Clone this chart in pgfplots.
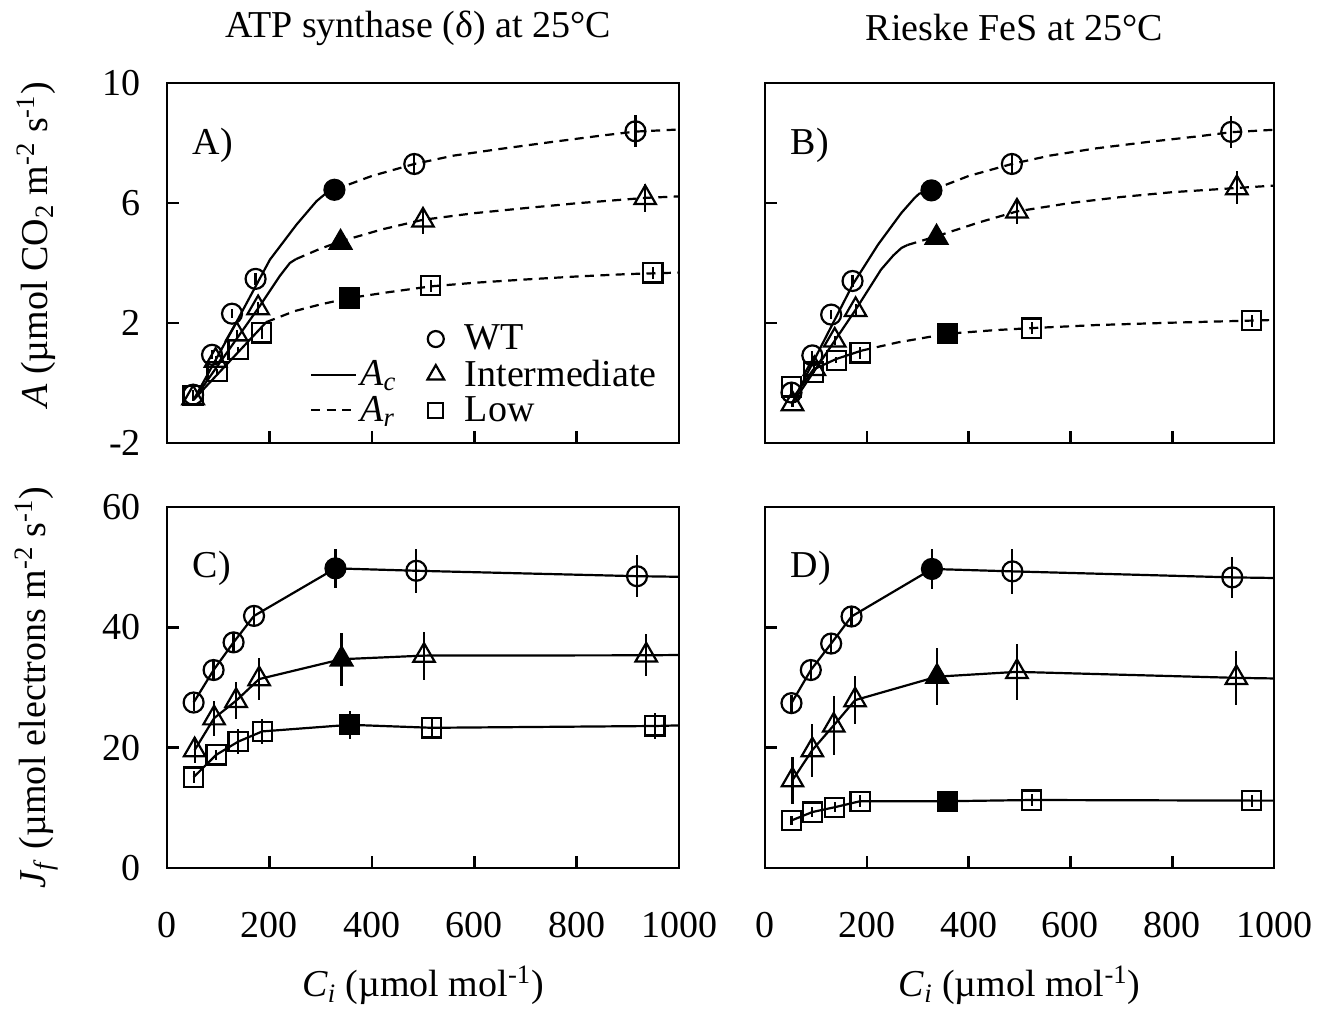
\documentclass[border=0pt]{standalone}
\usepackage{fontspec}
\setmainfont{Liberation Serif}
\usepackage{pgfplots}
\pgfplotsset{compat=1.18}

\newcommand{\bigfont}{\fontsize{19}{22}\selectfont}
\tikzset{plab/.style={font=\bigfont, anchor=west, inner sep=0pt}}

\pgfplotsset{
  panel/.style={
    scale only axis, width=256pt, height=180pt, anchor=south west,
    xmin=0, xmax=1000, xtick={0,200,...,1000},
    tick align=inside, tick pos=left, major tick length=6pt,
    axis line style={line width=1.3pt},
    every tick/.style={black, line width=1.3pt},
    tick label style={font=\bigfont},
    /pgf/number format/assume math mode=true,
    yticklabel style={xshift=-9.5pt},
    xticklabel style={yshift=-18.5pt},
    every axis y label/.style={at={(axis description cs:-0.255,0.5)}, rotate=90, anchor=center, font=\bigfont},
    every axis x label/.style={at={(axis description cs:0.5,-0.325)}, anchor=center, font=\bigfont},
    every axis title/.style={at={(axis description cs:0.49,1.153)}, anchor=center, font=\bigfont},
    clip=false,
  },
  toprow/.style={ymin=-2, ymax=10, ytick={-2,2,6,10}, xticklabels={}},
  botrow/.style={ymin=0, ymax=60, ytick={0,20,40,60}, xticklabels={0,200,400,600,800,1000},
    xlabel={\textit{C}\textsubscript{\textit{i}} (µmol mol\textsuperscript{-1})}},
  ac/.style={black, line width=1.1pt, no marks, solid},
  ar/.style={black, line width=1.1pt, no marks, dash pattern=on 4.5pt off 3.2pt},
  pts/.style={black, only marks, line width=1.1pt, mark options={solid},
    error bars/y dir=both, error bars/y explicit, error bars/error mark=none,
    error bars/error bar style={line width=1.1pt, solid}},
  wt/.style={pts, mark=o, mark size=5pt},
  wtf/.style={pts, mark=*, mark size=5pt, mark options={fill=black}},
  in/.style={pts, mark=triangle, mark size=6.2pt},
  inf/.style={pts, mark=triangle*, mark size=6.2pt, mark options={fill=black}},
  lo/.style={pts, mark=square, mark size=4.8pt},
  lof/.style={pts, mark=square*, mark size=4.8pt, mark options={fill=black}},
  legmark/.style={legend image code/.code={
    \path[draw=none] (-4pt,0pt) (13pt,0pt);
    \draw[black, line width=1.1pt, #1] plot coordinates {(0pt,0pt)};}},
}

\begin{document}
\begin{tikzpicture}
\path[use as bounding box] (0,0) rectangle (659.5pt,505pt);

% ---------------- A) ATP synthase, assimilation
\begin{axis}[panel, toprow, at={(83.5pt,283.5pt)},
  title={ATP synthase (δ) at 25°C},
  ylabel={\textit{A} (µmol CO\textsubscript{2} m\textsuperscript{-2} s\textsuperscript{-1})},
  ylabel style={at={(axis description cs:-0.255,0.55)}},
  legend columns=2, legend cell align=left,
  legend style={draw=none, fill=none, font=\bigfont,
    at={(axis description cs:0.975,0.348)}, anchor=north east,
    row sep=0.5pt, nodes={inner sep=1.5pt},
    /tikz/every even column/.append style={column sep=14pt}},
]
\addlegendimage{empty legend}\addlegendentry{}
\addlegendimage{legmark={mark=o, mark size=4pt}}\addlegendentry{WT}
\addlegendimage{legend image code/.code={\draw[black, line width=1.1pt] (0pt,0pt)--(22.5pt,0pt);}}
\addlegendentry{\textit{A}\textsubscript{\textit{c}}}
\addlegendimage{legmark={mark=triangle, mark size=4.8pt}}\addlegendentry{Intermediate}
\addlegendimage{legend image code/.code={\draw[black, line width=1.1pt, dash pattern=on 4.5pt off 3.2pt] (0pt,0pt)--(22.5pt,0pt);}}
\addlegendentry{\textit{A}\textsubscript{\textit{r}}}
\addlegendimage{legmark={mark=square, mark size=3.8pt}}\addlegendentry{Low}

\addplot[ac] coordinates {(52,-0.56) (130,1.85) (201,4.11) (253,5.28) (292,6.06) (311,6.33) (327,6.44)};
\addplot[ar] coordinates {(327,6.44) (400,6.9) (483,7.3) (560,7.58) (650,7.8) (750,8.03) (850,8.25) (915,8.38) (1000,8.45)};
\addplot[ac] coordinates {(52,-0.56) (181,2.56) (220,3.56) (240,4.0) (252,4.13)};
\addplot[ar] coordinates {(252,4.13) (300,4.48) (339,4.72) (420,5.12) (500,5.44) (600,5.66) (700,5.83) (800,5.99) (934,6.17) (1000,6.22)};
\addplot[ac] coordinates {(52,-0.56) (194,2.03)};
\addplot[ar] coordinates {(194,2.03) (250,2.4) (300,2.62) (356,2.83) (430,3.02) (515,3.22) (600,3.34) (700,3.45) (800,3.55) (900,3.63) (1000,3.68)};

\addplot[wt] table[x index=0, y index=1, y error index=2, row sep=\\] {
51 -0.39 0.15\\ 88 0.94 0.15\\ 127 2.31 0.15\\ 173 3.47 0.2\\ 483 7.30 0.33\\ 915 8.39 0.53\\};
\addplot[wtf] table[x index=0, y index=1, y error index=2, row sep=\\] {327 6.44 0\\};
\addplot[in] table[x index=0, y index=1, y error index=2, row sep=\\] {
51 -0.5 0.1\\ 95 0.75 0.15\\ 136 1.62 0.15\\ 178 2.5 0.2\\ 500 5.42 0.44\\ 934 6.17 0.47\\};
\addplot[inf] table[x index=0, y index=1, y error index=2, row sep=\\] {339 4.68 0\\};
\addplot[lo] table[x index=0, y index=1, y error index=2, row sep=\\] {
51 -0.42 0.1\\ 98 0.38 0.1\\ 139 1.11 0.1\\ 185 1.67 0.2\\ 515 3.24 0.2\\ 949 3.67 0.2\\};
\addplot[lof] table[x index=0, y index=1, y error index=2, row sep=\\] {356 2.83 0\\};
\node[plab] at (axis description cs:0.05,0.828) {A)};
\end{axis}

% ---------------- B) Rieske FeS, assimilation
\begin{axis}[panel, toprow, at={(382.5pt,283.5pt)}, width=254.5pt,
  yticklabels={}, title={Rieske FeS at 25°C}]
\addplot[ac] coordinates {(55,-0.61) (173,3.3) (222,4.61) (268,5.67) (294,6.17) (303,6.31) (327,6.42)};
\addplot[ar] coordinates {(327,6.42) (400,6.9) (485,7.3) (560,7.58) (650,7.82) (750,8.03) (850,8.22) (916,8.36) (1000,8.44)};
\addplot[ac] coordinates {(55,-0.65) (178,2.44) (228,3.78) (252,4.25) (268,4.5) (280,4.6)};
\addplot[ar] coordinates {(280,4.6) (337,4.89) (420,5.35) (495,5.72) (600,6.0) (700,6.2) (800,6.36) (927,6.5) (1000,6.58)};
\addplot[ac] coordinates {(55,-0.5) (95,0.45) (140,0.8) (190,1.08)};
\addplot[ar] coordinates {(190,1.08) (260,1.35) (358,1.64) (450,1.76) (524,1.83) (650,1.93) (800,2.01) (956,2.08) (1000,2.1)};

\addplot[wt] table[x index=0, y index=1, y error index=2, row sep=\\] {
52 -0.32 0.15\\ 93 0.92 0.15\\ 130 2.28 0.15\\ 172 3.4 0.2\\ 485 7.3 0.33\\ 916 8.37 0.53\\};
\addplot[wtf] table[x index=0, y index=1, y error index=2, row sep=\\] {327 6.42 0\\};
\addplot[in] table[x index=0, y index=1, y error index=2, row sep=\\] {
54 -0.7 0.1\\ 97 0.47 0.15\\ 137 1.42 0.15\\ 178 2.44 0.2\\ 495 5.72 0.42\\ 927 6.5 0.55\\};
\addplot[inf] table[x index=0, y index=1, y error index=2, row sep=\\] {337 4.85 0\\};
\addplot[lo] table[x index=0, y index=1, y error index=2, row sep=\\] {
52 -0.13 0.1\\ 95 0.36 0.1\\ 140 0.75 0.1\\ 187 1.0 0.2\\ 524 1.83 0.2\\ 956 2.08 0.2\\};
\addplot[lof] table[x index=0, y index=1, y error index=2, row sep=\\] {358 1.64 0\\};
\node[plab] at (axis description cs:0.05,0.828) {B)};
\end{axis}

% ---------------- C) ATP synthase, electron transport
\begin{axis}[panel, botrow, at={(83.5pt,71pt)}, height=180.5pt,
  ylabel={\textit{J}\textsubscript{\textit{f}} (µmol electrons m\textsuperscript{-2} s\textsuperscript{-1})}]
\addplot[ac] coordinates {(52,27.5) (91,32.9) (130,37.5) (170,41.9) (329,49.8) (487,49.4) (918,48.5) (1000,48.4)};
\addplot[ac] coordinates {(54,19.6) (92,24.9) (135,27.8) (180,31.4) (341,34.7) (502,35.3) (936,35.35) (1000,35.4)};
\addplot[ac] coordinates {(52,15.1) (96,18.8) (139,21.0) (186,22.7) (357,23.8) (517,23.3) (953,23.6) (1000,23.7)};

\addplot[wt] table[x index=0, y index=1, y error index=2, row sep=\\] {
52 27.5 1.4\\ 91 32.9 1.7\\ 130 37.5 1.7\\ 170 41.9 1.8\\ 487 49.4 3.7\\ 918 48.5 3.5\\};
\addplot[wtf] table[x index=0, y index=1, y error index=2, row sep=\\] {329 49.8 3.3\\};
\addplot[in] table[x index=0, y index=1, y error index=2, row sep=\\] {
54 19.6 2.2\\ 92 24.9 2.9\\ 135 27.8 3.1\\ 180 31.4 3.5\\ 502 35.3 4.0\\ 936 35.35 3.5\\};
\addplot[inf] table[x index=0, y index=1, y error index=2, row sep=\\] {341 34.7 4.4\\};
\addplot[lo] table[x index=0, y index=1, y error index=2, row sep=\\] {
52 15.1 1.0\\ 96 18.8 0.8\\ 139 21.0 2.1\\ 186 22.7 2.1\\ 517 23.3 1.8\\ 953 23.6 2.2\\};
\addplot[lof] table[x index=0, y index=1, y error index=2, row sep=\\] {357 23.8 2.3\\};
\node[plab] at (axis description cs:0.05,0.83) {C)};
\end{axis}

% ---------------- D) Rieske FeS, electron transport
\begin{axis}[panel, botrow, at={(382.5pt,71pt)}, width=254.5pt, height=180.5pt,
  yticklabels={}]
\addplot[ac] coordinates {(52,27.4) (90,32.9) (130,37.3) (170,41.8) (328,49.7) (486,49.3) (918,48.3) (1000,48.2)};
\addplot[ac] coordinates {(54,14.6) (93,19.6) (135,23.7) (177,27.9) (338,31.8) (495,32.6) (926,31.6) (1000,31.5)};
\addplot[ac] coordinates {(52,7.9) (93,9.3) (137,10.1) (187,11.1) (359,11.1) (524,11.3) (956,11.2) (1000,11.2)};

\addplot[wt] table[x index=0, y index=1, y error index=2, row sep=\\] {
52 27.4 1.4\\ 90 32.9 1.6\\ 130 37.3 1.7\\ 170 41.8 1.8\\ 486 49.3 3.75\\ 918 48.3 3.4\\};
\addplot[wtf] table[x index=0, y index=1, y error index=2, row sep=\\] {328 49.7 3.3\\};
\addplot[in] table[x index=0, y index=1, y error index=2, row sep=\\] {
54 14.6 3.9\\ 93 19.6 4.4\\ 135 23.7 4.9\\ 177 27.9 4.0\\ 495 32.6 4.7\\ 926 31.6 4.5\\};
\addplot[inf] table[x index=0, y index=1, y error index=2, row sep=\\] {338 31.8 4.7\\};
\addplot[lo] table[x index=0, y index=1, y error index=2, row sep=\\] {
52 7.9 0.8\\ 93 9.3 0.8\\ 137 10.1 0.8\\ 187 11.1 1.0\\ 524 11.3 1.0\\ 956 11.2 1.0\\};
\addplot[lof] table[x index=0, y index=1, y error index=2, row sep=\\] {359 11.1 0.8\\};
\node[plab] at (axis description cs:0.05,0.83) {D)};
\end{axis}
\end{tikzpicture}
\end{document}
